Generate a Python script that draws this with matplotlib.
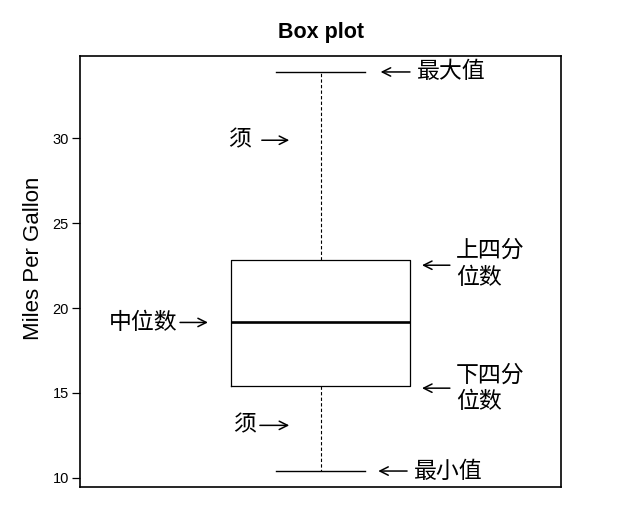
import matplotlib
matplotlib.use("Agg")
import matplotlib.pyplot as plt

# mtcars$mpg 的五数概括
stat_min = 10.4
stat_q1 = 15.425
stat_med = 19.2
stat_q3 = 22.8
stat_max = 33.9
yticks = [10, 15, 20, 25, 30]

cjk = ['Noto Sans CJK SC', 'DejaVu Sans']
plt.rcParams['font.family'] = ['Liberation Sans', 'DejaVu Sans']

fig = plt.figure(figsize=(6.19, 5.17), dpi=100)
ax = fig.add_axes([80/619, 1-487/517, 481/619, 431/517])

stats = [dict(whislo=stat_min, q1=stat_q1, med=stat_med, q3=stat_q3,
              whishi=stat_max, fliers=[])]
ax.bxp(stats, positions=[1], widths=0.4, capwidths=0.2,
       boxprops=dict(color='black', lw=0.9),
       medianprops=dict(color='black', lw=1.9),
       whiskerprops=dict(color='black', lw=0.8, linestyle=(0, (3, 2))),
       capprops=dict(color='black', lw=1.0),
       showfliers=False)

ax.set_xlim(0.46, 1.54)
ax.set_ylim(9.46, 34.84)
ax.set_xticks([])
ax.set_yticks(yticks)
ax.tick_params(axis='y', length=6, width=0.9, pad=2, labelsize=10.5)
for s in ax.spines.values():
    s.set_linewidth(1.2)

ax.set_title('Box plot', fontsize=15.5, fontweight='bold', pad=13)
ax.set_ylabel('Miles Per Gallon', fontsize=16)
ax.yaxis.set_label_coords(-0.074, 0.53)

trans = ax.get_yaxis_transform()  # x: axes fraction, y: data
arrow = dict(arrowstyle='->,head_length=0.6,head_width=0.3', lw=1.1,
             color='black', mutation_scale=10, shrinkA=0, shrinkB=0)
fs = 16.5


def label(text, ytext, x_text, ha='left'):
    ax.text(x_text, ytext, text, transform=trans, ha=ha, va='center',
            fontsize=fs, family=cjk, linespacing=1.2)


def arr(y, x_tail, x_head):
    ax.annotate('', xy=(x_head, y), xytext=(x_tail, y),
                xycoords=trans, textcoords=trans, arrowprops=arrow)


# 最大值 / 最小值
arr(stat_max, 0.686, 0.625)
label('最大值', stat_max, 0.700)
arr(stat_min, 0.680, 0.620)
label('最小值', stat_min, 0.694)

# 须
label('须', 29.88, 0.355, ha='right')
arr(29.88, 0.378, 0.435)
label('须', 13.09, 0.366, ha='right')
arr(13.09, 0.374, 0.435)

# 中位数
label('中位数', stat_med - 0.05, 0.202, ha='right')
arr(stat_med - 0.05, 0.208, 0.266)

# 上/下四分位数
arr(22.52, 0.769, 0.711)
label('上四分\n位数', 22.6, 0.782)
arr(15.28, 0.769, 0.711)
label('下四分\n位数', 15.25, 0.782)

fig.savefig('out.png', dpi=100)
